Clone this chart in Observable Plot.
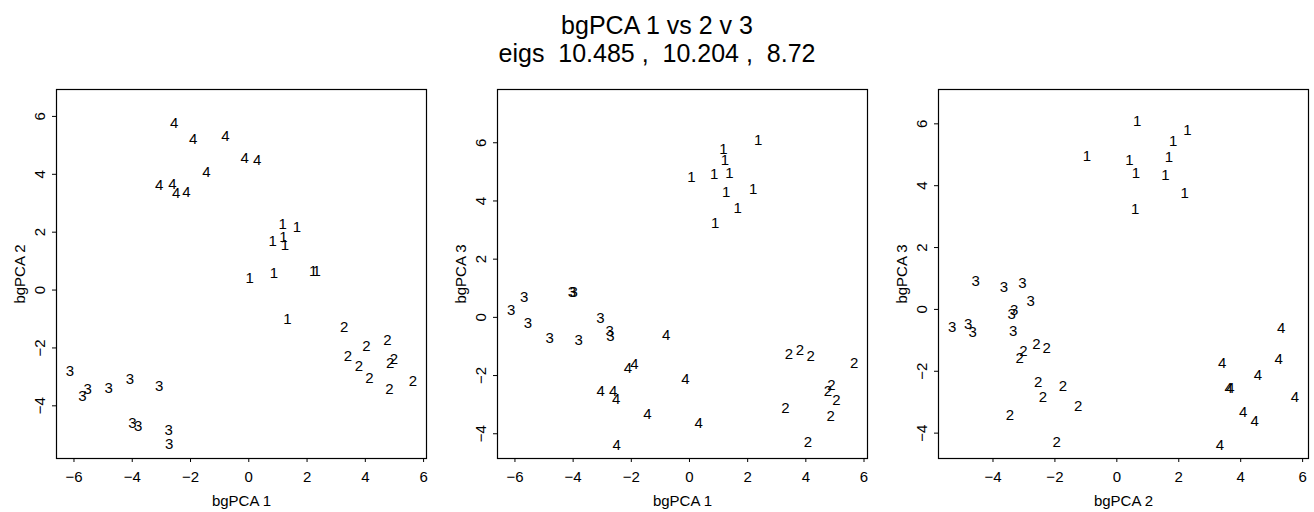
<!DOCTYPE html>
<html>
<head>
<meta charset="utf-8">
<script src="https://cdn.jsdelivr.net/npm/d3@7"></script>
<script src="https://cdn.jsdelivr.net/npm/@observablehq/plot@0.6"></script>
<style>
  html, body { margin: 0; padding: 0; background: white; }
  #wrap { position: relative; width: 1314px; height: 512px; overflow: hidden; font-family: "Liberation Sans", Arial, sans-serif; }
  #title { position: absolute; left: 0; top: 0; width: 1314px; text-align: center; font-size: 25px; line-height: 28px; padding-top: 11px; color: black; }
  .panel { position: absolute; top: 75px; }
</style>
</head>
<body>
<div id="wrap">
  <div id="title">bgPCA 1 vs 2 v 3<br>eigs&nbsp; 10.485 ,&nbsp; 10.204 ,&nbsp; 8.72</div>
</div>
<script>
// Group labels (each specimen is printed as its group number)
const p1Label = ["4","4","4","4","4","4","4","4","4","4",
                 "1","1","1","1","1","1","1","1","1","1",
                 "2","2","2","2","2","2","2","2","2","2",
                 "3","3","3","3","3","3","3","3","3","3"];
// Panel 1: bgPCA 1 (x) vs bgPCA 2 (y)
const p1X = [-2.56,-1.91,-0.80,-0.14,0.29,-1.45,-3.08,-2.62,-2.49,-2.14,
             1.16,1.65,0.82,1.19,1.24,0.03,0.86,2.21,2.33,1.33,
             3.27,4.76,4.04,3.40,4.98,3.78,4.85,4.14,5.63,4.83,
             -6.14,-5.53,-5.71,-4.81,-4.08,-3.08,-3.99,-3.80,-2.75,-2.73];
const p1Y = [5.75,5.23,5.32,4.57,4.48,4.08,3.64,3.67,3.36,3.39,
             2.29,2.18,1.69,1.83,1.54,0.41,0.59,0.64,0.66,-0.99,
             -1.28,-1.74,-1.94,-2.28,-2.39,-2.64,-2.54,-3.06,-3.14,-3.44,
             -2.80,-3.41,-3.67,-3.39,-3.08,-3.32,-4.59,-4.70,-4.85,-5.34];

// Panel 2: bgPCA 1 (x) vs bgPCA 3 (y)
const p2Label = ["1","1","1","1","1","1","1","1","1","1",
                 "3","3","3","3","3","3","3","3","3","3",
                 "4","4","4","4","4","4","4","4","4","4",
                 "2","2","2","2","2","2","2","2","2","2"];
const p2X = [2.36,1.17,1.22,0.07,0.85,1.37,1.26,2.19,1.66,0.88,
             -6.13,-5.68,-5.55,-4.81,-4.04,-3.98,-3.81,-3.06,-2.74,-2.72,
             -0.80,-1.89,-2.12,-0.14,-3.05,-2.62,-2.52,-1.45,0.32,-2.50,
             3.42,3.80,4.17,5.66,4.88,4.76,5.05,3.30,4.85,4.07];
const p2Y = [6.10,5.79,5.41,4.82,4.93,4.97,4.30,4.42,3.76,3.25,
             0.25,0.69,-0.19,-0.71,0.86,0.86,-0.77,-0.02,-0.48,-0.63,
             -0.61,-1.60,-1.74,-2.12,-2.52,-2.52,-2.81,-3.32,-3.65,-4.39,
             -1.26,-1.12,-1.33,-1.58,-2.33,-2.52,-2.83,-3.12,-3.39,-4.30];

// Panel 3: bgPCA 2 (x) vs bgPCA 3 (y)
const p3Label = ["1","1","1","1","1","1","1","1","1","1",
                 "3","3","3","3","3","3","3","3","3","3",
                 "2","2","2","2","2","2","2","2","2","2",
                 "4","4","4","4","4","4","4","4","4","4"];
const p3X = [0.66,2.28,1.82,-0.97,0.41,1.68,0.62,1.57,2.19,0.59,
             -4.56,-3.65,-3.05,-2.78,-5.32,-4.80,-4.66,-3.32,-3.40,-3.35,
             -2.60,-2.27,-3.02,-3.14,-2.54,-1.74,-2.39,-1.25,-3.45,-1.94,
             5.31,3.40,5.23,4.56,3.61,3.67,5.75,4.08,4.45,3.33];
const p3Y = [6.08,5.81,5.44,4.94,4.83,4.92,4.40,4.35,3.75,3.24,
             0.90,0.71,0.85,0.26,-0.58,-0.47,-0.74,-0.01,-0.15,-0.71,
             -1.12,-1.25,-1.34,-1.59,-2.36,-2.49,-2.85,-3.13,-3.41,-4.28,
             -0.61,-1.73,-1.61,-2.14,-2.54,-2.54,-2.85,-3.31,-3.60,-4.38];

// Axis settings
const ticksWide = [-6,-4,-2,0,2,4,6];
const ticksY = [-4,-2,0,2,4,6];
const ticksP3X = [-4,-2,0,2,4,6];

function panel(opts) {
  const data = opts.labels.map((t, i) => ({t, x: opts.xs[i], y: opts.ys[i]}));
  return Plot.plot({
    width: opts.width,
    height: 437,
    marginLeft: 56,
    marginRight: opts.marginRight,
    marginTop: 14,
    marginBottom: 54,
    style: {fontFamily: "'Liberation Sans', Arial, sans-serif", fontSize: "15px", color: "black", background: "white", overflow: "visible"},
    x: {domain: opts.xDomain},
    y: {domain: opts.yDomain},
    marks: [
      Plot.axisX({ticks: opts.xTicks, tickSize: 4, tickPadding: 9, label: opts.xLabel, labelAnchor: "center", labelArrow: "none", labelOffset: 47, fontSize: 15}),
      Plot.axisY({ticks: ticksY, tickSize: 4, tickPadding: 8, tickRotate: -90, label: opts.yLabel, labelAnchor: "center", labelArrow: "none", labelOffset: 42, fontSize: 15}),
      Plot.frame({stroke: "black", strokeWidth: 1.2}),
      Plot.text(data, {x: "x", y: "y", text: "t", fontSize: 15, fill: "black"})
    ]
  });
}

const wrap = document.getElementById("wrap");
const specs = [
  {left: 0, width: 441, marginRight: 15, labels: p1Label, xs: p1X, ys: p1Y, xDomain: [-6.6, 6.1], yDomain: [-5.82, 6.93], xTicks: ticksWide, xLabel: "bgPCA 1", yLabel: "bgPCA 2"},
  {left: 441, width: 441, marginRight: 15, labels: p2Label, xs: p2X, ys: p2Y, xDomain: [-6.6, 6.12], yDomain: [-4.85, 7.83], xTicks: ticksWide, xLabel: "bgPCA 1", yLabel: "bgPCA 3"},
  {left: 882, width: 432, marginRight: 6, labels: p3Label, xs: p3X, ys: p3Y, xDomain: [-5.76, 6.19], yDomain: [-4.82, 7.11], xTicks: ticksP3X, xLabel: "bgPCA 2", yLabel: "bgPCA 3"}
];
for (const s of specs) {
  const svg = panel(s);
  svg.classList.add("panel");
  svg.style.left = s.left + "px";
  wrap.appendChild(svg);
}
</script>
</body>
</html>
